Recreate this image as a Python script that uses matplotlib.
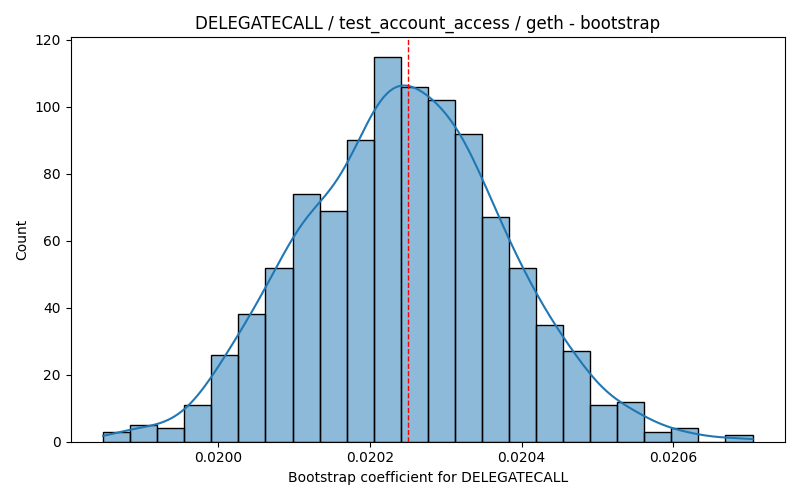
"""
Bootstrap distribution of the DELEGATECALL coefficient (geth, test_account_access).
"""
import numpy as np
import matplotlib
matplotlib.use("Agg")
import matplotlib.pyplot as plt
import seaborn as sns

# histogram: 24 equal bins
bin_lo = 0.0198486
bin_hi = 0.0207044
counts = [3, 5, 4, 11, 26, 38, 52, 74, 69, 90, 115, 106,
          102, 92, 67, 52, 35, 27, 11, 12, 3, 4, 0, 2]
mean_coef = 0.02025

edges = np.linspace(bin_lo, bin_hi, len(counts) + 1)
centers = (edges[:-1] + edges[1:]) / 2
samples = np.repeat(centers, counts)

# extend the kde support to the outer bin edges like the raw data would
bw = samples.std(ddof=1) * len(samples) ** (-1 / 5)
cut = (edges[1] - edges[0]) / 2 / bw

fig, ax = plt.subplots(figsize=(8, 5))
sns.histplot(samples, bins=edges, kde=True, kde_kws={"cut": cut}, ax=ax)
ax.axvline(mean_coef, color="red", linestyle="--", linewidth=1)
ax.set_title("DELEGATECALL / test_account_access / geth - bootstrap")
ax.set_xlabel("Bootstrap coefficient for DELEGATECALL")
ax.set_ylabel("Count")
ax.set_xticks([0.0200, 0.0202, 0.0204, 0.0206])
plt.tight_layout()
plt.savefig("out.png", dpi=100)
plt.close()
